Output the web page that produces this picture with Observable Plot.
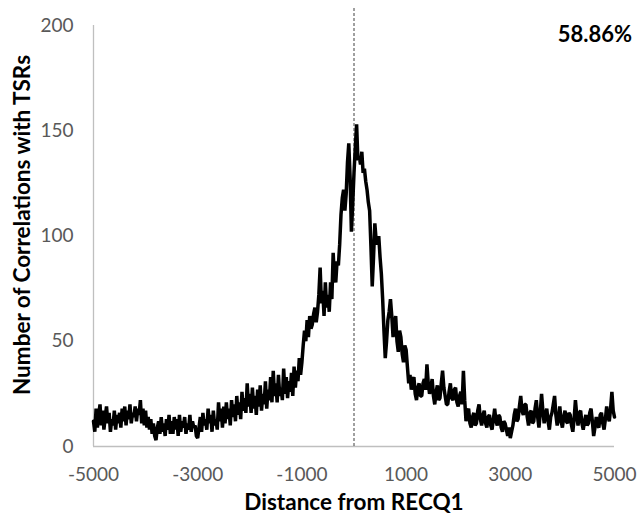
<!DOCTYPE html>
<html><head><meta charset="utf-8">
<script src="https://cdn.jsdelivr.net/npm/d3@7"></script>
<script src="https://cdn.jsdelivr.net/npm/@observablehq/plot@0.6"></script>
<style>body{margin:0;background:#fff} svg{display:block}</style>
</head><body><div id="chart"></div>
<script>
const xTicks = [-5000, -3000, -1000, 1000, 3000, 5000];
const yTicks = [0, 50, 100, 150, 200];
const xTitle = "Distance from RECQ1";
const yTitle = "Number of Correlations with TSRs";
const annotation = "58.86%";

// distance bins, -5000 .. 5000 every 25
const distances = d3.range(-5000, 5001, 25);
// number of correlations per bin, 20 values per 500
const counts = [
  12, 7, 18, 9, 15, 20, 10, 17, 8, 14, 19, 11, 16, 7, 13, 10, 17, 8, 15, 11,
  16, 9, 18, 12, 19, 10, 17, 13, 20, 11, 16, 14, 19, 12, 18, 15, 22, 11, 18, 10,
  17, 9, 14, 8, 13, 6, 11, 5, 3, 9, 12, 6, 14, 7, 11, 5, 13, 8, 15, 6,
  12, 6, 14, 8, 13, 5, 15, 7, 12, 9, 14, 6, 11, 8, 15, 7, 12, 9, 10, 5,
  4, 9, 14, 7, 16, 10, 13, 8, 18, 11, 15, 7, 17, 10, 13, 8, 21, 12, 18, 9,
  19, 11, 21, 13, 18, 10, 22, 14, 20, 12, 24, 15, 21, 13, 26, 17, 23, 16, 30, 19,
  25, 16, 28, 18, 24, 15, 27, 19, 29, 17, 25, 20, 31, 18, 27, 22, 33, 21, 36, 24,
  30, 21, 34, 24, 28, 22, 37, 25, 33, 23, 31, 26, 35, 24, 38, 28, 36, 31, 42, 34,
  40, 48, 55, 50, 60, 52, 62, 56, 58, 63, 66, 59, 64, 72, 85, 68, 74, 62, 78, 66,
  72, 64, 78, 70, 92, 80, 78, 88, 86, 96, 110, 118, 122, 112, 120, 135, 144, 128, 102, 115,
  130, 142, 153, 136, 138, 134, 140, 130, 132, 126, 122, 116, 112, 95, 76, 90, 106, 98, 96, 100,
  90, 82, 70, 55, 42, 50, 60, 64, 70, 62, 52, 58, 62, 50, 45, 55, 52, 44, 40, 48,
  46, 38, 30, 34, 27, 31, 33, 25, 22, 28, 30, 24, 24, 30, 32, 27, 39, 30, 25, 28,
  32, 24, 20, 26, 29, 22, 23, 30, 36, 28, 24, 20, 20, 26, 30, 23, 22, 27, 28, 21,
  19, 24, 26, 20, 36, 22, 12, 16, 18, 11, 9, 14, 16, 10, 11, 17, 20, 13, 10, 15,
  17, 11, 9, 14, 15, 10, 8, 13, 18, 12, 10, 15, 14, 9, 7, 12, 11, 8, 5, 9,
  4, 7, 10, 15, 18, 12, 13, 19, 24, 17, 15, 20, 20, 14, 10, 16, 17, 11, 12, 18,
  22, 14, 9, 16, 25, 17, 11, 15, 18, 12, 8, 14, 16, 20, 24, 15, 10, 13, 19, 12,
  9, 14, 17, 12, 11, 16, 15, 10, 7, 13, 22, 15, 10, 16, 17, 11, 8, 12, 15, 10,
  11, 16, 18, 12, 5, 9, 14, 10, 9, 15, 16, 11, 8, 13, 19, 14, 12, 18, 26, 17,
  14
];

const data = distances.map((d, i) => ({distance: d, count: counts[i]}));

const chart = Plot.plot({
  width: 643, height: 516,
  marginLeft: 93, marginRight: 29, marginTop: 25, marginBottom: 70,
  style: {fontFamily: "Lato, sans-serif", fontSize: "19px", background: "#fff"},
  x: {domain: [-5000, 5000]},
  y: {domain: [0, 200]},
  marks: [
    Plot.axisX({ticks: xTicks, tickSize: 0, tickPadding: 21, label: null, tickFormat: d => String(d), fill: "#595959"}),
    Plot.axisY({ticks: yTicks, tickSize: 0, tickPadding: 20, label: null, tickFormat: d => String(d), fill: "#595959"}),
    Plot.ruleY([0], {stroke: "#bfbfbf", strokeWidth: 1.3}),
    Plot.ruleX([-5000], {stroke: "#bfbfbf", strokeWidth: 1.3}),
    Plot.ruleX([0], {stroke: "#404040", strokeWidth: 1, strokeDasharray: "3,2", insetTop: -17}),
    Plot.line(data, {x: "distance", y: "count", stroke: "black", strokeWidth: 3.5, strokeLinejoin: "miter"})
  ]
});

const svg = d3.select(chart);
svg.append("text")
  .attr("x", 354).attr("y", 510)
  .attr("text-anchor", "middle")
  .attr("font-family", "Lato, sans-serif").attr("font-weight", "bold").attr("font-size", 22.5)
  .attr("fill", "#000").text(xTitle);
svg.append("text")
  .attr("transform", "translate(30,225) rotate(-90)")
  .attr("text-anchor", "middle")
  .attr("font-family", "Lato, sans-serif").attr("font-weight", "bold").attr("font-size", 22.5)
  .attr("fill", "#000").text(yTitle);
svg.append("text")
  .attr("x", 632).attr("y", 42)
  .attr("text-anchor", "end")
  .attr("font-family", "Lato, sans-serif").attr("font-weight", "bold").attr("font-size", 22)
  .attr("fill", "#000").text(annotation);

document.getElementById("chart").appendChild(chart);
</script>
</body></html>
